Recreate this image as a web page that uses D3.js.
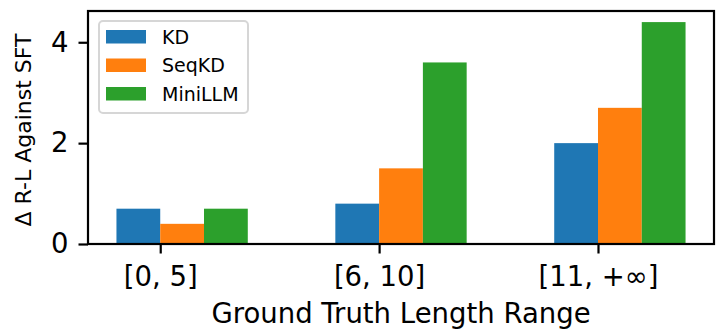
<!DOCTYPE html>
<html>
<head>
<meta charset="utf-8">
<script src="https://cdn.jsdelivr.net/npm/d3@7"></script>
<style>
  body { margin: 0; background: #fff; }
  svg { display: block; font-family: "DejaVu Sans", sans-serif; }
</style>
</head>
<body>
<script>
var width = 719,
    height = 334;

// data
var categories = ["[0, 5]", "[6, 10]", "[11, +\u221e]"];
var seriesNames = ["KD", "SeqKD", "MiniLLM"];
var kd = [0.7, 0.8, 2.0];
var seqkd = [0.4, 1.5, 2.7];
var minillm = [0.7, 3.6, 4.4];
var yTicks = [0, 2, 4];

var colors = ["#1f77b4", "#ff7f0e", "#2ca02c"];
var values = [kd, seqkd, minillm];
var barW = 0.2;

// plot box (note: "top" is taken by window.top)
var plotLeft = 88, plotRight = 714, plotTop = 11, plotBottom = 244;

var svg = d3.select("body")
    .append("svg")
    .attr("width", width)
    .attr("height", height);

// matplotlib style: data range -0.2..2.4 with 5% margins
var x = d3.scaleLinear()
    .domain([-0.33, 2.53])
    .range([plotLeft, plotRight]);

var y = d3.scaleLinear()
    .domain([0, 4.62])
    .range([plotBottom, plotTop]);

// bars
values.forEach(function (vals, j) {
    svg.append("g")
        .selectAll("rect")
        .data(vals)
        .enter().append("rect")
        .attr("x", function (d, i) { return x(i + (j - 1) * barW); })
        .attr("width", function (d, i) { return x(i + j * barW) - x(i + (j - 1) * barW); })
        .attr("y", function (d) { return y(d); })
        .attr("height", function (d) { return y(0) - y(d); })
        .attr("fill", colors[j]);
});

// axes
var xAxis = d3.axisBottom(x)
    .tickValues([0, 1, 2])
    .tickFormat(function (d) { return categories[d]; })
    .tickSize(9.5)
    .tickPadding(13);

var yAxis = d3.axisLeft(y)
    .tickValues(yTicks)
    .tickFormat(d3.format("d"))
    .tickSize(9.5)
    .tickPadding(10);

var gx = svg.append("g")
    .attr("transform", "translate(0," + plotBottom + ")")
    .call(xAxis);
gx.select(".domain").remove();
gx.selectAll(".tick line").attr("stroke", "#000").attr("stroke-width", 2.2);
gx.selectAll(".tick text")
    .attr("font-size", 27.5)
    .attr("font-family", "DejaVu Sans")
    .attr("fill", "#000");

var gy = svg.append("g")
    .attr("transform", "translate(" + plotLeft + ",0)")
    .call(yAxis);
gy.select(".domain").remove();
gy.selectAll(".tick line").attr("stroke", "#000").attr("stroke-width", 2.2);
gy.selectAll(".tick text")
    .attr("font-size", 27.5)
    .attr("font-family", "DejaVu Sans")
    .attr("fill", "#000");

// frame
svg.append("rect")
    .attr("x", plotLeft)
    .attr("y", plotTop)
    .attr("width", plotRight - plotLeft)
    .attr("height", plotBottom - plotTop)
    .attr("fill", "none")
    .attr("stroke", "#000")
    .attr("stroke-width", 2.2);

// axis labels
svg.append("text")
    .attr("x", (plotLeft + plotRight) / 2)
    .attr("y", 323)
    .attr("text-anchor", "middle")
    .attr("font-size", 27.5)
    .text("Ground Truth Length Range");

svg.append("text")
    .attr("transform", "translate(31,130) rotate(-90)")
    .attr("text-anchor", "middle")
    .attr("font-size", 22)
    .text("\u0394 R-L Against SFT");

// legend
var legend = svg.append("g");
legend.append("rect")
    .attr("x", 99)
    .attr("y", 21)
    .attr("width", 149)
    .attr("height", 92)
    .attr("rx", 4)
    .attr("fill", "#fff")
    .attr("fill-opacity", 0.8)
    .attr("stroke", "#d6d6d6")
    .attr("stroke-width", 2);

var item = legend.selectAll("g.item")
    .data(seriesNames)
    .enter().append("g")
    .attr("class", "item")
    .attr("transform", function (d, i) { return "translate(0," + (i * 28.5) + ")"; });

item.append("rect")
    .attr("x", 106)
    .attr("y", 30)
    .attr("width", 40)
    .attr("height", 13.5)
    .attr("fill", function (d, i) { return colors[i]; });

item.append("text")
    .attr("x", 162)
    .attr("y", 43.5)
    .attr("font-size", 19)
    .text(function (d) { return d; });
</script>
</body>
</html>
